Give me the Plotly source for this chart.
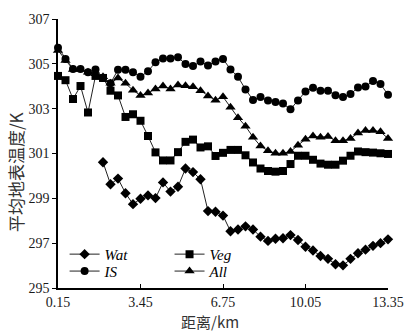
import plotly.graph_objects as go

# Distance along the transect (km)
distance = [0.15, 0.45, 0.75, 1.05, 1.35, 1.65, 1.95, 2.25, 2.55, 2.85,
            3.15, 3.45, 3.75, 4.05, 4.35, 4.65, 4.95, 5.25, 5.55, 5.85,
            6.15, 6.45, 6.75, 7.05, 7.35, 7.65, 7.95, 8.25, 8.55, 8.85,
            9.15, 9.45, 9.75, 10.05, 10.35, 10.65, 10.95, 11.25, 11.55, 11.85,
            12.15, 12.45, 12.75, 13.05, 13.35]

# Mean land surface temperature (K) per land-cover class
wat = [None, None, None, None, None, None,
       300.61, 299.63, 299.88, 299.23, 298.74, 298.98, 299.13, 299.01, 299.71,
       299.30, 299.52, 300.33, 300.17, 299.85, 298.43, 298.40, 298.23, 297.53,
       297.61, 297.75, 297.61, 297.29, 297.10, 297.20, 297.22, 297.36, 297.14,
       296.84, 296.67, 296.43, 296.30, 296.06, 296.01, 296.30, 296.55, 296.71,
       296.88, 297.00, 297.17]

veg = [304.46, 304.27, 303.43, 304.01, 302.83, 304.46, 304.37, 303.80, 303.59,
       302.63, 302.75, 302.46, 301.78, 301.05, 300.69, 300.69, 301.06, 301.52,
       301.62, 301.27, 301.32, 300.89, 301.03, 301.16, 301.16, 300.92, 300.60,
       300.33, 300.22, 300.19, 300.22, 300.53, 300.90, 300.90, 300.72, 300.55,
       300.50, 300.50, 300.68, 300.90, 301.09, 301.06, 301.04, 301.01, 300.98]

all_lc = [305.60, 305.15, 304.75, 304.75, 304.62, 304.56, 304.42, 304.13, 304.37,
          304.13, 303.82, 303.59, 303.70, 303.88, 304.01, 303.88, 304.06, 304.02,
          303.98, 303.80, 303.57, 303.37, 303.53, 303.06, 302.60, 302.22, 301.73,
          301.33, 301.12, 301.01, 301.01, 301.09, 301.37, 301.64, 301.78, 301.73,
          301.76, 301.57, 301.57, 301.67, 301.91, 302.03, 302.03, 301.97, 301.67]

imp = [305.72, 305.22, 304.77, 304.77, 304.63, 304.75, 304.37, 304.13, 304.74,
       304.74, 304.63, 304.42, 304.67, 305.07, 305.24, 305.24, 305.29, 304.99,
       304.90, 305.10, 304.93, 305.10, 305.22, 304.75, 304.42, 303.86, 303.39,
       303.52, 303.36, 303.30, 303.23, 302.97, 303.36, 303.77, 303.93, 303.80,
       303.80, 303.60, 303.52, 303.65, 303.94, 303.99, 304.23, 304.10, 303.62]

x_ticks = [0.15, 3.45, 6.75, 10.05, 13.35]
x_tick_text = ["0.15", "3.45", "6.75", "10.05", "13.35"]
y_ticks = [295, 297, 299, 301, 303, 305, 307]

SERIF = "Liberation Serif, Times New Roman, serif"

series = [
    ("Wat", wat, "diamond", 8, "legend"),
    ("Veg", veg, "square", 8, "legend3"),
    ("All", all_lc, "triangle-up", 9, "legend4"),
    ("IS", imp, "circle", 8, "legend2"),
]

fig = go.Figure()
for name, vals, sym, size, leg in series:
    fig.add_trace(go.Scatter(
        x=distance, y=vals, name=name, mode="lines+markers",
        line=dict(color="#222222", width=1),
        marker=dict(symbol=sym, size=size, color="black"),
        cliponaxis=False, legend=leg, showlegend=True,
    ))

leg_font = dict(family=SERIF, size=15, color="black", style="italic")


def leg_box(x, y):
    return dict(x=x, y=y, xanchor="left", yanchor="middle",
                bgcolor="rgba(0,0,0,0)", font=leg_font,
                itemwidth=30, tracegroupgap=0, visible=True)


fig.update_layout(
    width=416, height=335,
    margin=dict(l=58, r=16, t=12, b=47),
    paper_bgcolor="white", plot_bgcolor="white",
    showlegend=True,
    legend=leg_box(0.02, 0.125),
    legend2=leg_box(0.02, 0.062),
    legend3=leg_box(0.338, 0.125),
    legend4=leg_box(0.338, 0.062),
    font=dict(family=SERIF, size=14, color="#1a1a1a"),
)

fig.update_xaxes(
    range=[0.15, 13.35], tickvals=x_ticks, ticktext=x_tick_text,
    showline=True, linecolor="black", linewidth=1.5, mirror=False,
    ticks="inside", ticklen=4, tickcolor="black", tickwidth=1,
    showgrid=False, zeroline=False,
    tickfont=dict(family=SERIF, size=14, color="#1a1a1a"),
)
fig.update_yaxes(
    range=[295, 307], tickvals=y_ticks,
    showline=True, linecolor="black", linewidth=1.5,
    ticks="outside", ticklen=4, tickcolor="black", tickwidth=1,
    showgrid=False, zeroline=False,
    tickfont=dict(family=SERIF, size=14, color="#1a1a1a"),
)

fig.add_annotation(
    text="平均地表温度/K", textangle=-90, showarrow=False,
    xref="paper", yref="paper", x=-0.128, y=0.43,
    xanchor="center", yanchor="middle",
    font=dict(family="Noto Sans CJK SC", size=17, color="#333333"),
)
fig.add_annotation(
    text="距离/km", showarrow=False,
    xref="paper", yref="paper", x=0.46, y=-0.125,
    xanchor="center", yanchor="middle",
    font=dict(family="Noto Sans CJK SC", size=15, color="#333333"),
)

fig.write_html("out.html")
